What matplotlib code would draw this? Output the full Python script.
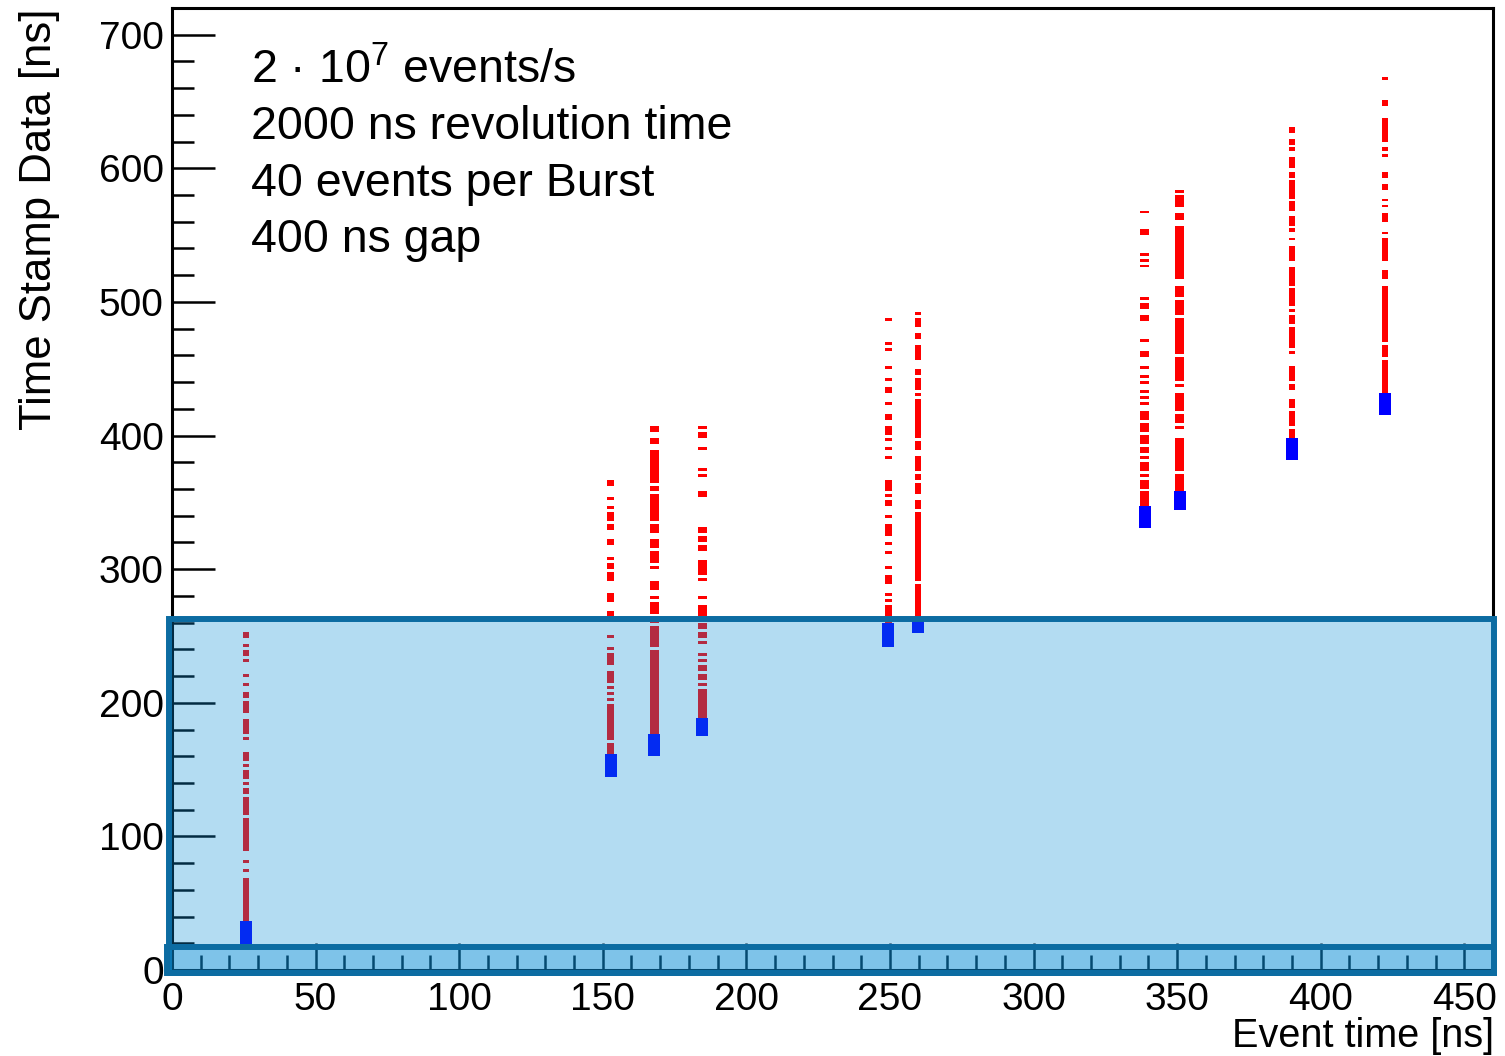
import matplotlib
matplotlib.use("Agg")
import matplotlib.pyplot as plt
from matplotlib.patches import Rectangle
from matplotlib.ticker import MultipleLocator

plt.rcParams['font.family'] = ['Liberation Sans', 'DejaVu Sans']
plt.rcParams['mathtext.fontset'] = 'custom'
plt.rcParams['mathtext.rm'] = 'Liberation Sans'
plt.rcParams['mathtext.default'] = 'regular'

# event time of each burst column [ns]
event_x = [25.7, 152.7, 167.9, 184.6, 249.5, 259.9, 338.7, 350.9, 390.1, 422.5]

# first time stamp of each burst (blue)
first_y = [[24, 32], [149, 157], [165, 172], [180, 184], [246, 251, 255],
           [257], [335, 343], [349, 354], [386, 394], [420, 427]]

red_spans = [
    [(30, 68.8), (73.3, 75.5), (80, 82.3), (89, 113.7), (115.9, 129.4), (131.6, 136.1),
     (138.4, 140.6), (142.9, 149.6), (151.8, 154.1), (156.3, 163), (172, 174.3),
     (176.5, 187.7), (192.2, 201.2), (203.4, 207.9), (212.4, 214.7), (219.1, 221.4),
     (230.4, 232.6), (234.9, 239.3), (241.6, 243.8), (248.3, 252.8)],
    [(157, 169.8), (172, 199), (201.2, 203.4), (205.7, 207.9), (210.2, 212.4),
     (214.7, 223.6), (228.1, 237.1), (239.3, 241.6), (248.3, 250.6), (264.8, 268.5),
     (275.2, 282), (291, 297.7), (299.9, 304.4), (306.7, 308.9), (317.9, 322.4),
     (329.1, 333.6), (335.8, 342.6), (344.8, 347), (351.5, 353.8), (362, 366.5)],
    [(172, 239.3), (241.6, 257.3), (259.5, 260.5), (266.3, 275.2), (277.5, 279.7),
     (284.2, 291), (299.9, 302.2), (304.4, 313.4), (315.6, 322.4), (326.8, 333.6),
     (335.8, 356), (358.3, 362), (364.2, 388.9), (393.4, 397.9), (402.4, 406.9)],
    [(184, 210.2), (212.4, 214.7), (216.9, 221.4), (223.6, 228.1), (230.4, 232.6),
     (234.9, 237.1), (243.8, 246.1), (248.3, 252.8), (255, 259.5), (264.8, 273),
     (277.5, 279.7), (291, 293.2), (295.4, 306.7), (313.4, 317.9), (320.1, 324.6),
     (326.8, 331.3), (353.8, 358.3), (368.7, 371), (373.2, 375.5), (388.9, 391.2),
     (397.9, 402.4), (404.6, 406.9)],
    [(255, 261), (264.8, 273), (275.2, 277.5), (279.7, 282), (288.7, 295.4),
     (299.9, 302.2), (311.1, 313.4), (317.9, 320.1), (324.6, 333.6), (338.1, 340.3),
     (347, 351.5), (353.8, 356), (358.3, 366.5), (382.2, 384.4), (388.9, 391.2),
     (395.7, 397.9), (400.1, 406.9), (411.4, 415.9), (422.6, 424.8), (431.6, 436),
     (440.5, 442.8), (449.5, 451.8), (463, 465.2), (467.5, 469.7), (485.4, 487.7)],
    [(260, 288.7), (291, 342.6), (344.8, 351.5), (356, 364.2), (366.5, 371),
     (373.2, 384.4), (388.9, 395.7), (397.9, 427.1), (429.3, 431.6), (433.8, 442.8),
     (445, 449.5), (456.2, 467.5), (472, 476.4), (480.9, 487.7), (489.9, 492.1)],
    [(343, 358.3), (359.8, 366.5), (368.7, 371), (373.2, 380), (382.2, 384.4),
     (386.7, 391.2), (393.4, 400.1), (402.4, 409.1), (411.4, 418.1), (422.6, 424.8),
     (427.1, 429.3), (431.6, 433.8), (438.3, 440.5), (442.8, 445), (449.5, 451.8),
     (458.5, 463), (469.7, 472), (485.4, 489.9), (494.4, 498.9), (501.1, 503.4),
     (525.8, 528), (530, 532.5), (534.4, 537), (550, 554.9), (566.2, 568.4)],
    [(355, 371), (373.2, 397.9), (404.6, 406.9), (409.1, 415.9), (418.1, 431.6),
     (436, 438.3), (440.5, 458.5), (460.7, 487.7), (489.9, 501.1), (503.4, 512.3),
     (516.8, 557.2), (561.7, 566.2), (570.7, 579.7), (581.9, 584.1)],
    [(395.7, 404.6), (406.9, 418.1), (420.3, 427.1), (433.8, 438.3), (440.5, 451.8),
     (460.7, 463), (465.2, 480.9), (483.2, 489.9), (492.1, 494.4), (496.6, 510.1),
     (512.3, 525.8), (530.3, 541.5), (546, 548.2), (552.7, 555), (556.5, 564),
     (568.4, 575.2), (577.4, 590.9), (593.1, 597.6), (599.9, 608.8), (613.3, 615.6),
     (617.8, 622.3), (626.8, 631.3)],
    [(428, 456.2), (458.5, 467.5), (469.7, 512.3), (516.8, 523.6), (530.3, 548.2),
     (550.5, 552.7), (559.5, 566.2), (570.7, 572.9), (575.2, 577.4), (584.1, 588.6),
     (593.1, 597.6), (608.8, 611.1), (613.3, 615.6), (620, 638), (647, 651.5),
     (666.4, 668.7)],
]

info_lines = ['2 · 10$^{7}$ events/s', '2000 ns revolution time',
              '40 events per Burst', '400 ns gap']

# drawn widths of the red columns (data units)
col_w = [2.1, 2.1, 3.1, 3.1, 2.1, 2.1, 3.1, 3.1, 2.1, 2.1]

W, H = 1505, 1056
fig = plt.figure(figsize=(W / 100, H / 100), dpi=100)
ax = fig.add_axes([172 / W, 1 - 970 / H, (1493 - 172) / W, (970 - 8) / H])

for x, w, spans in zip(event_x, col_w, red_spans):
    lo = [s[0] for s in spans]
    hi = [s[1] for s in spans]
    ax.bar([x] * len(spans), [h - l for l, h in zip(lo, hi)], bottom=lo,
           width=w, color='#ff0000', linewidth=0, zorder=2)

for x, ys in zip(event_x, first_y):
    ax.plot([x] * len(ys), ys, linestyle='none', marker='s', markersize=8.6,
            color='#0000ff', markeredgewidth=0, zorder=3)

ax.set_xlim(0, 460)
ax.set_ylim(0, 720)
ax.xaxis.set_major_locator(MultipleLocator(50))
ax.xaxis.set_minor_locator(MultipleLocator(10))
ax.yaxis.set_major_locator(MultipleLocator(100))
ax.yaxis.set_minor_locator(MultipleLocator(20))
ax.tick_params(which='both', direction='in', top=False, right=False,
               width=1.8, color='black')
ax.tick_params(axis='y', which='major', length=31, pad=6, labelsize=28)
ax.tick_params(axis='y', which='minor', length=16)
ax.tick_params(axis='x', which='major', length=19.5, pad=9, labelsize=28)
ax.tick_params(axis='x', which='minor', length=11)
for sp in ax.spines.values():
    sp.set_linewidth(2.2)

fig.text(51 / W, 1 - 8 / H, 'Time Stamp Data [ns]', rotation=90,
         rotation_mode='anchor', ha='right', va='baseline', fontsize=31.5)
fig.text(1494 / W, 1 - 1047 / H, 'Event time [ns]', ha='right',
         va='baseline', fontsize=28.5)

for i, line in enumerate(info_lines):
    fig.text(251 / W, 1 - (83 + 56.3 * i) / H, line, ha='left',
             va='baseline', fontsize=33.5)

# highlighted region overlay
fill = (10 / 255, 142 / 255, 216 / 255, 0.31)
edge = '#0c6ca2'
ax.add_patch(Rectangle((-1.0, -2.2), 461.5, 264.7, facecolor=fill,
                       edgecolor=edge, linewidth=4.3, zorder=10, clip_on=False))
ax.add_patch(Rectangle((-1.7, -2.2), 462.2, 19.4, facecolor=fill,
                       edgecolor=edge, linewidth=4.3, zorder=11, clip_on=False))

fig.savefig('out.png', dpi=100)
